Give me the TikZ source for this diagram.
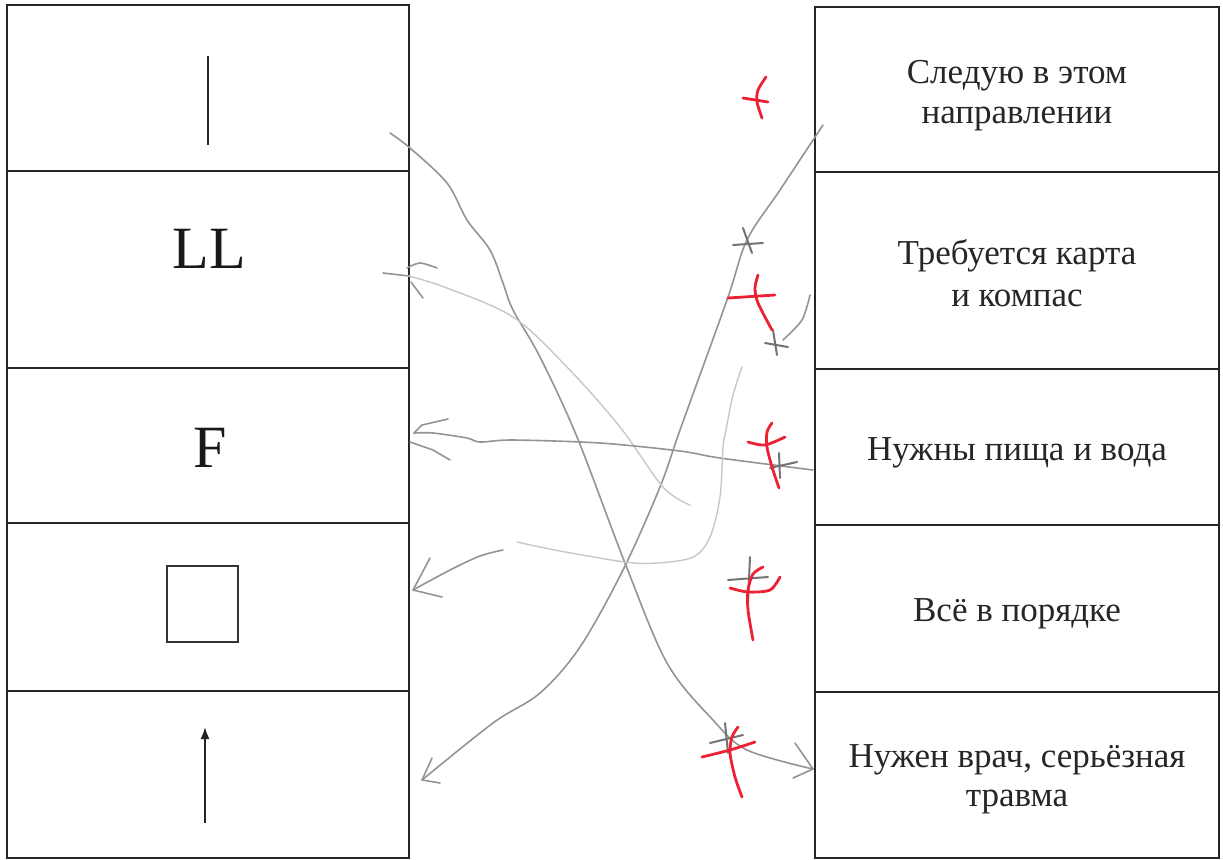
\documentclass[tikz,border=0pt]{standalone}
\usepackage{fontspec}
\setmainfont{Liberation Serif}
\usetikzlibrary{arrows.meta}
\definecolor{pen}{RGB}{238,32,52}
\begin{document}
\begin{tikzpicture}[x=0.5pt,y=-0.5pt,
  lbox/.style={draw=black!85,line width=1pt,minimum width=201pt,inner sep=0pt,outer sep=0pt},
  rbox/.style={draw=black!85,line width=1pt,minimum width=202pt,inner sep=0pt,outer sep=0pt},
  txt/.style={font=\fontsize{17.5}{20}\selectfont,text=black!85,anchor=base,inner sep=0pt},
  sym/.style={font=\fontsize{30}{34}\selectfont,text=black!90,inner sep=0pt},
  pencil/.style={draw=black!42,line width=0.8pt,line cap=round,line join=round},
  faint/.style={draw=black!22,line width=0.7pt,line cap=round,line join=round},
  redmark/.style={draw=pen,line width=1.4pt,line cap=round,line join=round},
  graymark/.style={draw=black!55,line width=1pt,line cap=round}]
\useasboundingbox (0,0) rectangle (1223,859);
\fill[white] (0,0) rectangle (1223,859);

% left column
\node[lbox,minimum height=83pt]   (L1) at (208,88) {};
\node[lbox,minimum height=98.5pt] (L2) at (208,269.5) {};
\node[lbox,minimum height=77.5pt] (L3) at (208,445.5) {};
\node[lbox,minimum height=84pt]   (L4) at (208,607) {};
\node[lbox,minimum height=83.5pt] (L5) at (208,774.5) {};

% right column
\node[rbox,minimum height=82.5pt] (R1) at (1017,89.5) {};
\node[rbox,minimum height=98.5pt] (R2) at (1017,270.5) {};
\node[rbox,minimum height=78pt]   (R3) at (1017,447) {};
\node[rbox,minimum height=83.5pt] (R4) at (1017,608.5) {};
\node[rbox,minimum height=83pt]   (R5) at (1017,775) {};

% symbols
\coordinate (vl1) at (208,56);
\coordinate (vl2) at (208,145);
\draw[black!85,line width=0.8pt] (vl1) -- (vl2);
\node[sym] (LLtxt) at (209.5,248.5) {LL};
\node[sym] (Ftxt) at (210,447.5) {F};
\node[draw=black!80,line width=0.6pt,minimum width=35.5pt,minimum height=38pt,inner sep=0pt] (sq) at (202.5,604) {};
\coordinate (ar1) at (205,823);
\coordinate (ar2) at (205,727);
\draw[black!85,line width=0.8pt,-{Latex[length=6pt,width=4.5pt]}] (ar1) -- (ar2);

% texts
\node[txt] (t1a) at (1017,83) {Следую в этом};
\node[txt] (t1b) at (1017,123) {направлении};
\node[txt] (t2a) at (1017,264) {Требуется карта};
\node[txt] (t2b) at (1017,306) {и компас};
\node[txt] (t3) at (1017,460) {Нужны пища и вода};
\node[txt] (t4) at (1017,621) {Всё в порядке};
\node[txt] (t5a) at (1017,767) {Нужен врач, серьёзная};
\node[txt] (t5b) at (1017,806) {травма};

% pencil connector 1: L1 -> R5
\coordinate (p1s) at (390,133);
\coordinate (p1e) at (813,769);
\draw[pencil] plot[smooth,tension=0.55] coordinates {(p1s) (410,148) (447,183) (467,220) (490,250) (503,283) (513,310) (540,357) (577,437) (625,563) (667,663) (713,720) (747,750) (p1e)};
\draw[pencil] (795,743) -- (p1e);
\draw[pencil] (793,778) -- (p1e);

% pencil connector 2: R1 -> L5
\coordinate (p2s) at (823,125);
\coordinate (p2e) at (422,780);
\draw[pencil] plot[smooth,tension=0.55] coordinates {(p2s) (780,190) (747,240) (727,300) (680,430) (660,487) (623,570) (580,647) (540,693) (493,723) (p2e)};
\draw[pencil] (432,758) -- (p2e) -- (440,783);

% pencil connector 3: from L2 (faint)
\coordinate (p3s) at (383,273);
\coordinate (p3h) at (409,276);
\coordinate (p3e) at (690,505);
\draw[pencil] (p3s) -- (p3h);
\draw[pencil] plot[smooth] coordinates {(407,268) (420,263) (437,268)};
\draw[pencil] (411,282) -- (423,298);
\draw[faint] plot[smooth,tension=0.55] coordinates {(p3h) (447,288) (513,317) (567,367) (620,427) (663,487) (p3e)};

% pencil connector 4: R3 -> L3
\coordinate (p4s) at (813,470);
\coordinate (p4e) at (414,433);
\draw[pencil] plot[smooth,tension=0.5] coordinates {(p4s) (720,458) (680,451) (600,443) (513,440) (480,442) (467,438) (433,433) (p4e)};
\draw[pencil] (p4e) -- (422,425) -- (448,419);
\draw[pencil] (410,442) -- (433,450) -- (450,460);

% pencil connector 5: R2 -> L4
\coordinate (p5s) at (810,295);
\coordinate (p5e) at (413,590);
\draw[pencil] plot[smooth] coordinates {(p5s) (802,320) (783,340)};
\draw[faint] plot[smooth,tension=0.55] coordinates {(742,367) (733,395) (726,430) (723,447) (720,497) (710,537) (693,557) (657,563) (625,562) (560,551) (517,542)};
\draw[pencil] plot[smooth,tension=0.55] coordinates {(503,550) (480,556) (450,570) (p5e)};
\draw[pencil] (430,558) -- (p5e) -- (442,597);

% gray pencil marks
\draw[graymark] (733,245) -- (763,243) (743,228) -- (752,253);
\draw[graymark] (765,343) -- (788,347) (773,330) -- (777,355);
\draw[graymark] (770,468) -- (797,462) (779,453) -- (780,478);
\draw[graymark] (728,580) -- (768,577) (750,557) -- (748,603);
\draw[graymark] (710,743) -- (743,735) (725,723) -- (728,753);

% red marks
\draw[redmark] (743,98) -- (768,102);
\draw[redmark] plot[smooth] coordinates {(766,77) (758,90) (757,102) (762,118)};
\draw[redmark] (728,298) -- (775,295);
\draw[redmark] plot[smooth] coordinates {(758,275) (755,288) (758,303) (772,330)};
\draw[redmark] plot[smooth] coordinates {(748,442) (765,445) (785,437)};
\draw[redmark] plot[smooth] coordinates {(772,423) (767,432) (767,447) (772,467) (779,488)};
\draw[redmark] plot[smooth] coordinates {(730,588) (748,592) (770,590) (780,577)};
\draw[redmark] plot[smooth] coordinates {(763,567) (753,574) (748,590) (748,610) (753,640)};
\draw[redmark] plot[smooth] coordinates {(702,757) (730,750) (755,742)};
\draw[redmark] plot[smooth] coordinates {(738,727) (732,737) (730,753) (735,777) (742,797)};
\end{tikzpicture}
\end{document}
